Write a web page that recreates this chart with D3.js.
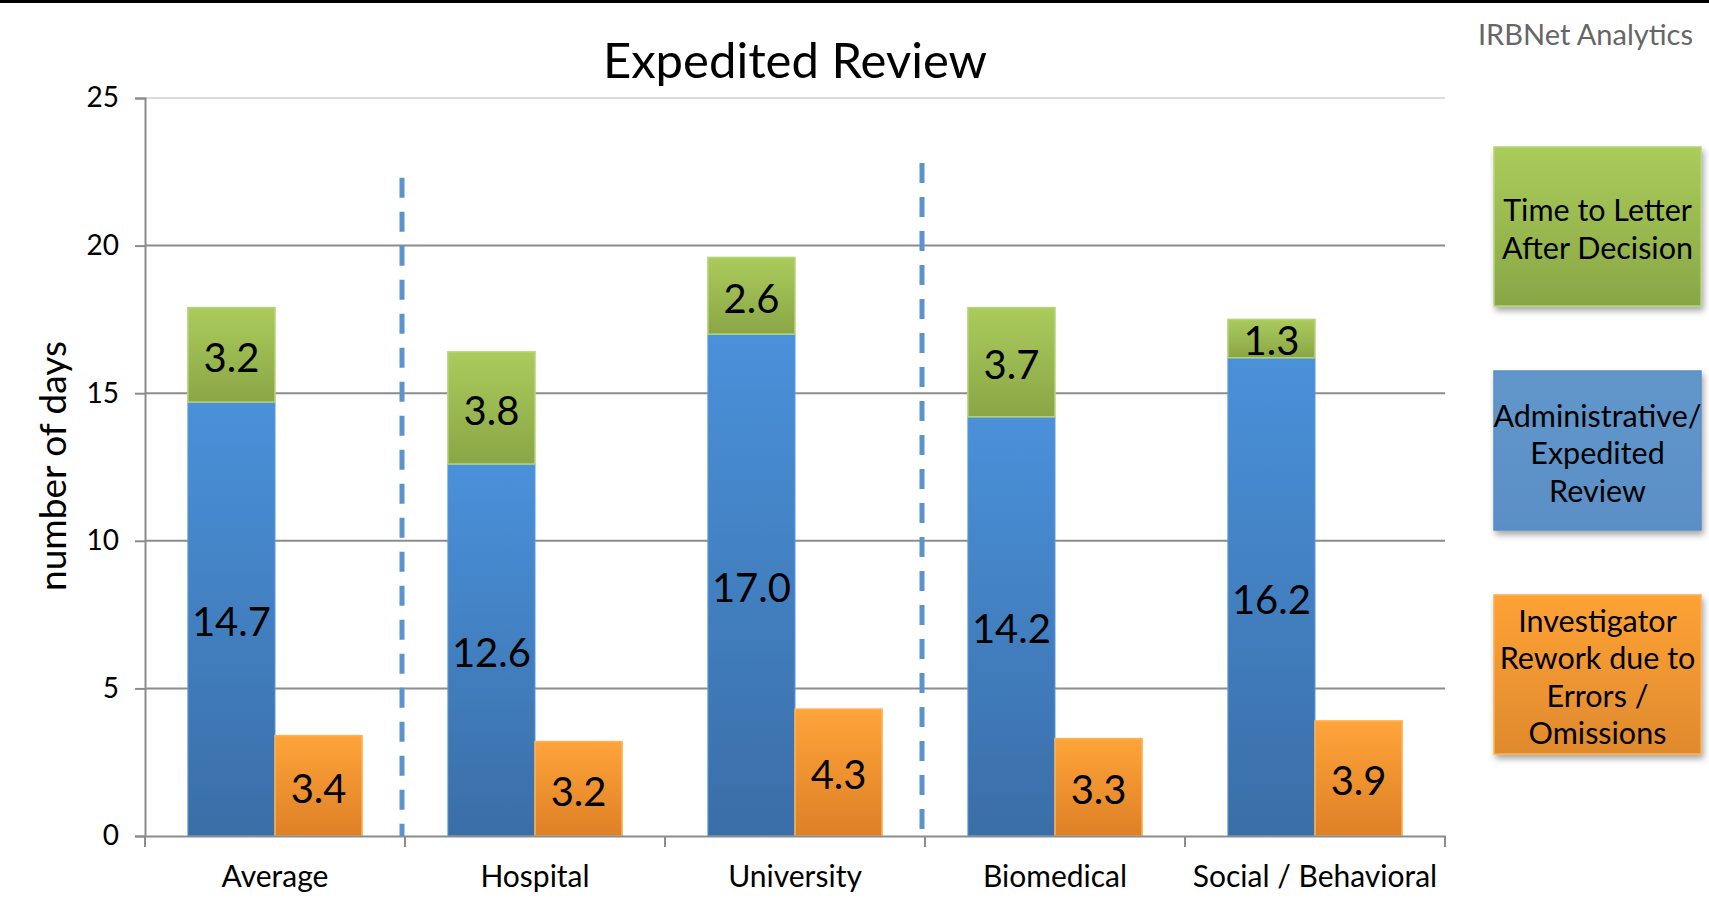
<!DOCTYPE html>
<html>
<head>
<meta charset="utf-8">
<script src="https://cdn.jsdelivr.net/npm/d3@7"></script>
<style>
  html, body { margin: 0; padding: 0; background: #fff; }
  svg { display: block; }
  text { font-family: "Gill Sans", "Gill Sans MT", Lato, "Open Sans", sans-serif; }
</style>
</head>
<body>
<svg id="chart" width="1709" height="902"></svg>
<script>
// ---- data ----
const categories = ["Average", "Hospital", "University", "Biomedical", "Social / Behavioral"];
const adminReview = [14.7, 12.6, 17.0, 14.2, 16.2];      // blue, bottom of stack
const timeToLetter = [3.2, 3.8, 2.6, 3.7, 1.3];          // green, top of stack
const investigatorRework = [3.4, 3.2, 4.3, 3.3, 3.9];    // orange, separate bar
const yTicks = [0, 5, 10, 15, 20, 25];
const dividerAfter = ["Average", "University"];
const dividerTop = [22.3, 22.8];
const legendItems = [
  { key: "green", lines: ["Time to Letter", "After Decision"] },
  { key: "blue", lines: ["Administrative/", "Expedited", "Review"] },
  { key: "orange", lines: ["Investigator", "Rework due to", "Errors /", "Omissions"] }
];

// ---- layout ----
const svg = d3.select("#chart");
const W = 1709, H = 902;
const plot = { left: 145, right: 1445, top: 98, bottom: 836 };

const x = d3.scaleBand().domain(categories)
  .range([plot.left, plot.right]).paddingInner(0.33).paddingOuter(0.165);
const sub = d3.scaleBand().domain(["stack", "rework"]).range([0, x.bandwidth()]);
const y = d3.scaleLinear().domain([0, 25]).range([plot.bottom, plot.top]);

// gradients
const defs = svg.append("defs");
function grad(id, c1, c2) {
  const g = defs.append("linearGradient").attr("id", id)
    .attr("x1", 0).attr("y1", 0).attr("x2", 0).attr("y2", 1);
  g.append("stop").attr("offset", "0%").attr("stop-color", c1);
  g.append("stop").attr("offset", "100%").attr("stop-color", c2);
}
grad("gBlue", "#4a91da", "#3a6ea7");
grad("gGreen", "#abcb5c", "#8aa646");
grad("gOrange", "#ffa43a", "#de8026");
grad("lGreen", "#aacc5a", "#89a646");
grad("lBlue", "#6197cb", "#5a8fc6");
grad("lOrange", "#fea235", "#df8a2e");
const sh = defs.append("filter").attr("id", "shadow")
  .attr("x", "-10%").attr("y", "-10%").attr("width", "130%").attr("height", "130%");
sh.append("feDropShadow").attr("dx", 2).attr("dy", 4).attr("stdDeviation", 3)
  .attr("flood-color", "#000").attr("flood-opacity", 0.35);

// top black bar
svg.append("rect").attr("x", 0).attr("y", 0).attr("width", W).attr("height", 3).attr("fill", "#000");

// title
svg.append("text").attr("x", 795).attr("y", 78).attr("text-anchor", "middle")
  .attr("font-size", 49).attr("fill", "#000").text("Expedited Review");
svg.append("text").attr("x", 1693).attr("y", 45).attr("text-anchor", "end")
  .attr("font-size", 29).attr("fill", "#666").text("IRBNet Analytics");

// gridlines
svg.append("g").selectAll("line").data(yTicks.filter(d => d > 0)).join("line")
  .attr("x1", plot.left).attr("x2", plot.right)
  .attr("y1", d => y(d)).attr("y2", d => y(d))
  .attr("stroke", d => d === 25 ? "#dcdcdc" : "#8c8c8c").attr("stroke-width", 2);

// y axis
const yAxis = svg.append("g").attr("transform", `translate(${plot.left},0)`)
  .call(d3.axisLeft(y).tickValues(yTicks).tickSize(10).tickPadding(16));
yAxis.select(".domain").attr("stroke", "#8c8c8c").attr("stroke-width", 2);
yAxis.selectAll(".tick line").attr("stroke", "#8c8c8c").attr("stroke-width", 2);
yAxis.selectAll(".tick text").attr("font-size", 28).attr("fill", "#000")
  .style("font-family", '"Gill Sans", Lato, sans-serif');

// y axis title
svg.append("text").attr("transform", `translate(66,${466}) rotate(-90)`)
  .attr("text-anchor", "middle").attr("font-size", 37).attr("fill", "#000")
  .text("number of days");

// bars
const g = svg.append("g");
categories.forEach((c, i) => {
  const x0 = x(c);
  const bw = sub.bandwidth();
  const xs = x0 + sub("stack"), xr = x0 + sub("rework");
  const b = adminReview[i], t = timeToLetter[i], r = investigatorRework[i];
  // blue
  g.append("rect").attr("x", xs).attr("y", y(b)).attr("width", bw).attr("height", y(0) - y(b))
    .attr("fill", "url(#gBlue)").attr("stroke", "#5a9be0").attr("stroke-width", 1);
  // green
  g.append("rect").attr("x", xs).attr("y", y(b + t)).attr("width", bw).attr("height", y(b) - y(b + t))
    .attr("fill", "url(#gGreen)").attr("stroke", "#b6d47a").attr("stroke-width", 1.5);
  // orange
  g.append("rect").attr("x", xr).attr("y", y(r)).attr("width", bw).attr("height", y(0) - y(r))
    .attr("fill", "url(#gOrange)").attr("stroke", "#ffb25a").attr("stroke-width", 1.5);
  // labels
  const lab = (cx, v0, v1, v) => g.append("text").attr("x", cx).attr("y", (y(v0) + y(v1)) / 2)
    .attr("dy", "0.42em").attr("text-anchor", "middle").attr("font-size", 40).attr("fill", "#000")
    .text(v.toFixed(1));
  lab(xs + bw / 2, 0, b, b);
  lab(xs + bw / 2, b, b + t, t);
  lab(xr + bw / 2, 0, r, r);
});

// x axis
const xAxis = svg.append("g").attr("transform", `translate(0,${plot.bottom})`)
  .call(d3.axisBottom(x).tickSize(0).tickPadding(30));
xAxis.select(".domain").attr("stroke", "#8c8c8c").attr("stroke-width", 2);
xAxis.selectAll(".tick text").attr("font-size", 30).attr("fill", "#000")
  .style("font-family", '"Gill Sans", Lato, sans-serif');
const bounds = d3.range(categories.length + 1).map(i => plot.left + i * x.step());
svg.append("g").selectAll("line").data(bounds).join("line")
  .attr("x1", d => d).attr("x2", d => d).attr("y1", plot.bottom).attr("y2", plot.bottom + 11)
  .attr("stroke", "#8c8c8c").attr("stroke-width", 2);

// dashed dividers
dividerAfter.forEach((c, i) => {
  const xp = x(c) + x.bandwidth() + (x.step() - x.bandwidth()) / 2 - 3;
  svg.append("line").attr("x1", xp).attr("x2", xp)
    .attr("y1", y(dividerTop[i])).attr("y2", plot.bottom)
    .attr("stroke", "#5b93cc").attr("stroke-width", 5).attr("stroke-dasharray", "20 14");
});

// legend
const legendColors = { green: "url(#lGreen)", blue: "url(#lBlue)", orange: "url(#lOrange)" };
const legendStroke = { green: "#b5d37a", blue: "#5a8fc6", orange: "#ffad50" };
const legendY = [147, 371, 595];
legendItems.forEach((it, i) => {
  const lx = 1494, ly = legendY[i], lw = 207, lh = 159;
  svg.append("rect").attr("x", lx).attr("y", ly).attr("width", lw).attr("height", lh)
    .attr("fill", legendColors[it.key]).attr("stroke", legendStroke[it.key]).attr("stroke-width", 1.5)
    .attr("filter", "url(#shadow)");
  const lineH = 37.5;
  const n = it.lines.length;
  const startY = ly + lh / 2 - (n - 1) * lineH / 2 + 3;
  it.lines.forEach((l, j) => {
    svg.append("text").attr("x", lx + lw / 2).attr("y", startY + j * lineH).attr("dy", "0.35em")
      .attr("text-anchor", "middle").attr("font-size", 30.5).attr("fill", "#000").text(l);
  });
});
</script>
</body>
</html>
